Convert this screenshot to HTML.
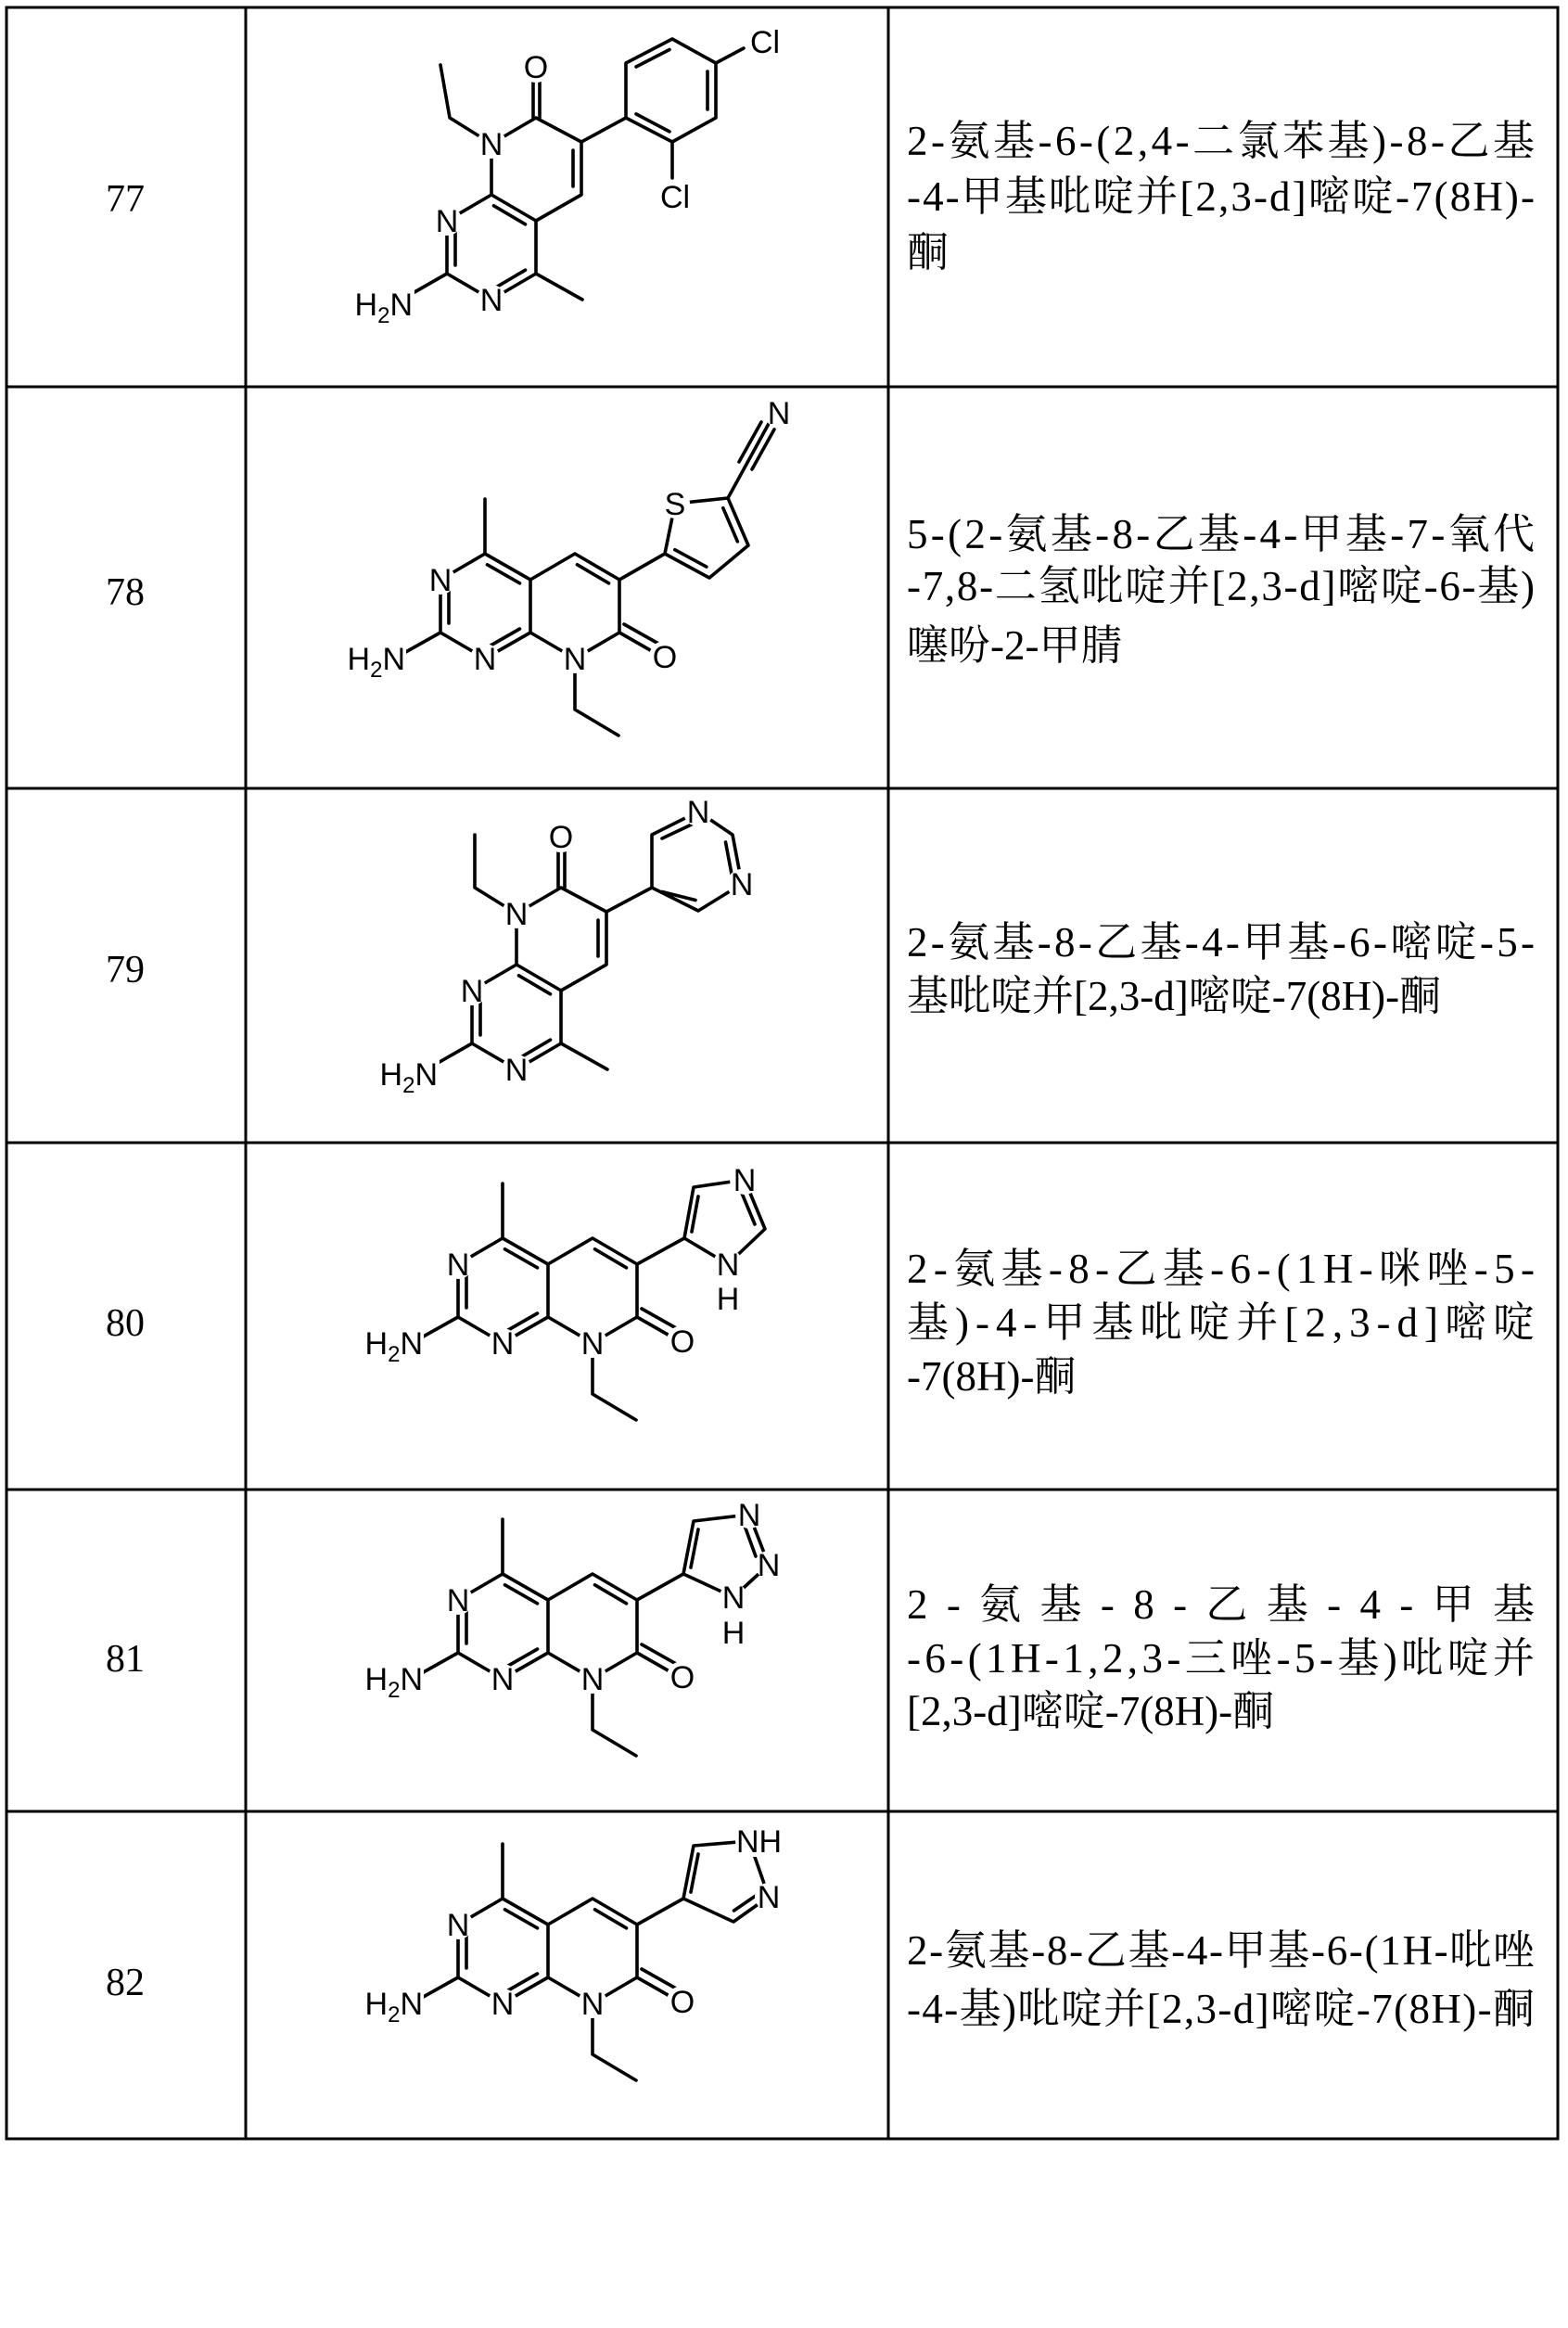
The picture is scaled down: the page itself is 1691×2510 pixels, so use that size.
<!DOCTYPE html>
<html><head><meta charset="utf-8"><style>
html,body{margin:0;padding:0;background:#fff;}
svg{display:block;}
.b{stroke:#000;stroke-width:3.6;fill:none;stroke-linecap:round;stroke-linejoin:round;}
.a{font-family:"Liberation Sans",sans-serif;font-size:34px;text-anchor:middle;fill:#000;}
.s{font-size:24px;}
.num{font-family:"Liberation Serif",serif;font-size:42px;text-anchor:middle;fill:#000;}
.t{font-family:"Liberation Serif","Noto Serif CJK SC",serif;font-size:45px;fill:#000;}
.bg{fill:#fff;}
</style></head><body>
<svg width="1691" height="2510" viewBox="0 0 1691 2510" xmlns="http://www.w3.org/2000/svg">
<rect width="1691" height="2510" fill="#fff"/>
<g stroke="#000" stroke-width="3" fill="none">
<rect x="7" y="8" width="1673" height="2298"/>
<line x1="265" y1="8" x2="265" y2="2306"/>
<line x1="958" y1="8" x2="958" y2="2306"/>
<line x1="7" y1="417" x2="1680" y2="417"/>
<line x1="7" y1="850" x2="1680" y2="850"/>
<line x1="7" y1="1232" x2="1680" y2="1232"/>
<line x1="7" y1="1606" x2="1680" y2="1606"/>
<line x1="7" y1="1953" x2="1680" y2="1953"/>
</g>
<text class="num" x="135" y="228">77</text>
<text class="num" x="135" y="652">78</text>
<text class="num" x="135" y="1059">79</text>
<text class="num" x="135" y="1440">80</text>
<text class="num" x="135" y="1802">81</text>
<text class="num" x="135" y="2151">82</text>
<text class="t" x="978" y="167" textLength="677" lengthAdjust="spacing">2-氨基-6-(2,4-二氯苯基)-8-乙基</text>
<text class="t" x="978" y="227" textLength="677" lengthAdjust="spacing">-4-甲基吡啶并[2,3-d]嘧啶-7(8H)-</text>
<text class="t" x="978" y="287">酮</text>
<text class="t" x="978" y="591" textLength="677" lengthAdjust="spacing">5-(2-氨基-8-乙基-4-甲基-7-氧代</text>
<text class="t" x="978" y="647" textLength="677" lengthAdjust="spacing">-7,8-二氢吡啶并[2,3-d]嘧啶-6-基)</text>
<text class="t" x="978" y="711">噻吩-2-甲腈</text>
<text class="t" x="978" y="1031" textLength="677" lengthAdjust="spacing">2-氨基-8-乙基-4-甲基-6-嘧啶-5-</text>
<text class="t" x="978" y="1089">基吡啶并[2,3-d]嘧啶-7(8H)-酮</text>
<text class="t" x="978" y="1383" textLength="677" lengthAdjust="spacing">2-氨基-8-乙基-6-(1H-咪唑-5-</text>
<text class="t" x="978" y="1441" textLength="677" lengthAdjust="spacing">基)-4-甲基吡啶并[2,3-d]嘧啶</text>
<text class="t" x="978" y="1499">-7(8H)-酮</text>
<text class="t" x="978" y="1745" textLength="677" lengthAdjust="spacing">2-氨基-8-乙基-4-甲基</text>
<text class="t" x="978" y="1803" textLength="677" lengthAdjust="spacing">-6-(1H-1,2,3-三唑-5-基)吡啶并</text>
<text class="t" x="978" y="1860">[2,3-d]嘧啶-7(8H)-酮</text>
<text class="t" x="978" y="2118" textLength="677" lengthAdjust="spacing">2-氨基-8-乙基-4-甲基-6-(1H-吡唑</text>
<text class="t" x="978" y="2181" textLength="677" lengthAdjust="spacing">-4-基)吡啶并[2,3-d]嘧啶-7(8H)-酮</text>

<g>
<path class="b" d="M482,238 L482,295 L530,323 L578,295 L578,238 L530,210 Z M530,210 L530,155 L578,127 L627,153 L627,210 L578,238 M575,127 L575,76 M582,127 L582,76 M578,295 L628,323 M482,295 L433,323 M530,155 L485,127 L475,70 M618,162 L618,201 M566.5,241.8 L532.5,221.8 M491,247 L491,286 M532.5,311.2 L566.5,291.2"/>
<circle class="bg" cx="530" cy="155" r="16"/><circle class="bg" cx="578" cy="72" r="17"/><circle class="bg" cx="482" cy="238" r="16"/><circle class="bg" cx="530" cy="323" r="16"/><rect class="bg" x="377" y="306" width="70" height="40"/>
<text class="a" x="530" y="167">N</text><text class="a" x="578" y="84">O</text><text class="a" x="482" y="250">N</text><text class="a" x="530" y="335">N</text>
<text class="a" x="445" y="340" style="text-anchor:end">H<tspan class="s" dy="8">2</tspan><tspan dy="-8">N</tspan></text>
</g>
<path class="b" d="M627,153 L675,127 M675,127 L725,153 L772,127 L772,68 L725,42 L675,68 Z M725,153 L725,192 M772,68 L802,52 M686,72 L722,53.5 M763,77 L763,118 M686,122.9 L722,141.9"/>
<text class="a" x="728" y="224">Cl</text>
<text class="a" x="825" y="57">Cl</text>

<g transform="translate(27,830)">
<path class="b" d="M482,238 L482,295 L530,323 L578,295 L578,238 L530,210 Z M530,210 L530,155 L578,127 L627,153 L627,210 L578,238 M575,127 L575,76 M582,127 L582,76 M578,295 L628,323 M482,295 L433,323 M530,155 L485,127 L485,70 M618,162 L618,201 M566.5,241.8 L532.5,221.8 M491,247 L491,286 M532.5,311.2 L566.5,291.2"/>
<circle class="bg" cx="530" cy="155" r="16"/><circle class="bg" cx="578" cy="72" r="17"/><circle class="bg" cx="482" cy="238" r="16"/><circle class="bg" cx="530" cy="323" r="16"/><rect class="bg" x="377" y="306" width="70" height="40"/>
<text class="a" x="530" y="167">N</text><text class="a" x="578" y="84">O</text><text class="a" x="482" y="250">N</text><text class="a" x="530" y="335">N</text>
<text class="a" x="445" y="340" style="text-anchor:end">H<tspan class="s" dy="8">2</tspan><tspan dy="-8">N</tspan></text>
</g>
<path class="b" d="M654,983 L703,957 M703,957 L703,900 L753,875 L790,900 L800,953 L753,982 Z M714,904 L750,887 M782.5,908 L789.5,945 M750,970.5 L714,961.5"/>
<circle class="bg" cx="753" cy="875" r="16"/><circle class="bg" cx="800" cy="953" r="16"/>
<text class="a" x="753" y="887">N</text><text class="a" x="800" y="965">N</text>

<g>
<path class="b" d="M523,538 L523,597 M523,597 L475,625 L475,682 L523,710 L572,682 L572,625 Z M572,625 L620,597 L668,625 L668,682 L620,710 L572,682 M668,682 L717,710 M673,673 L712,695 M620,710 L620,765 L667,793 M475,682 L425,710 M484,636 L484,672 M525.5,698 L560.5,678 M525.5,608.8 L560.5,628.8 M622.5,608.8 L656.5,628.8"/>
<circle class="bg" cx="475" cy="625" r="16"/><circle class="bg" cx="523" cy="710" r="16"/><circle class="bg" cx="620" cy="710" r="16"/><circle class="bg" cx="717" cy="708" r="17"/><rect class="bg" x="368" y="690" width="70" height="40"/>
<text class="a" x="475" y="637">N</text><text class="a" x="523" y="722">N</text><text class="a" x="620" y="722">N</text><text class="a" x="717" y="720">O</text>
<text class="a" x="437" y="722" style="text-anchor:end">H<tspan class="s" dy="8">2</tspan><tspan dy="-8">N</tspan></text>
</g>
<path class="b" d="M668,625 L717,597 M717,597 L728,543 L785,537 L807,588 L765,623 Z M779.8,547.7 L795.4,583.9 M761.8,611.1 L727.8,592.7 M785,537 L830,455 M797,498 L821,455 M811,506 L835,463"/>
<circle class="bg" cx="728" cy="543" r="16"/><circle class="bg" cx="840" cy="445" r="16"/>
<text class="a" x="728" y="555">S</text><text class="a" x="840" y="457">N</text>

<g transform="translate(19,738)">
<path class="b" d="M523,538 L523,597 M523,597 L475,625 L475,682 L523,710 L572,682 L572,625 Z M572,625 L620,597 L668,625 L668,682 L620,710 L572,682 M668,682 L717,710 M673,673 L712,695 M620,710 L620,765 L667,793 M475,682 L425,710 M484,636 L484,672 M525.5,698 L560.5,678 M525.5,608.8 L560.5,628.8 M622.5,608.8 L656.5,628.8"/>
<circle class="bg" cx="475" cy="625" r="16"/><circle class="bg" cx="523" cy="710" r="16"/><circle class="bg" cx="620" cy="710" r="16"/><circle class="bg" cx="717" cy="708" r="17"/><rect class="bg" x="368" y="690" width="70" height="40"/>
<text class="a" x="475" y="637">N</text><text class="a" x="523" y="722">N</text><text class="a" x="620" y="722">N</text><text class="a" x="717" y="720">O</text>
<text class="a" x="437" y="722" style="text-anchor:end">H<tspan class="s" dy="8">2</tspan><tspan dy="-8">N</tspan></text>
</g>
<path class="b" d="M687,1363 L738,1335 M738,1335 L748,1280 L803,1272 L825,1325 L785,1363 Z M746,1328 L753,1290 M799,1284 L814,1320"/>
<circle class="bg" cx="803" cy="1272" r="16"/><circle class="bg" cx="785" cy="1363" r="16"/>
<text class="a" x="803" y="1284">N</text><text class="a" x="785" y="1375">N</text><text class="a" x="785" y="1412">H</text>

<g transform="translate(19,1100)">
<path class="b" d="M523,538 L523,597 M523,597 L475,625 L475,682 L523,710 L572,682 L572,625 Z M572,625 L620,597 L668,625 L668,682 L620,710 L572,682 M668,682 L717,710 M673,673 L712,695 M620,710 L620,765 L667,793 M475,682 L425,710 M484,636 L484,672 M525.5,698 L560.5,678 M525.5,608.8 L560.5,628.8 M622.5,608.8 L656.5,628.8"/>
<circle class="bg" cx="475" cy="625" r="16"/><circle class="bg" cx="523" cy="710" r="16"/><circle class="bg" cx="620" cy="710" r="16"/><circle class="bg" cx="717" cy="708" r="17"/><rect class="bg" x="368" y="690" width="70" height="40"/>
<text class="a" x="475" y="637">N</text><text class="a" x="523" y="722">N</text><text class="a" x="620" y="722">N</text><text class="a" x="717" y="720">O</text>
<text class="a" x="437" y="722" style="text-anchor:end">H<tspan class="s" dy="8">2</tspan><tspan dy="-8">N</tspan></text>
</g>
<path class="b" d="M687,1725 L737,1697 M737,1697 L748,1640 L808,1633 L829,1687 L791,1722 Z M745,1690 L753,1649 M803,1645 L815,1678"/>
<circle class="bg" cx="808" cy="1633" r="15"/><circle class="bg" cx="829" cy="1687" r="15"/><circle class="bg" cx="791" cy="1722" r="15"/>
<text class="a" x="808" y="1645">N</text><text class="a" x="829" y="1699">N</text><text class="a" x="791" y="1734">N</text><text class="a" x="791" y="1772">H</text>

<g transform="translate(19,1450)">
<path class="b" d="M523,538 L523,597 M523,597 L475,625 L475,682 L523,710 L572,682 L572,625 Z M572,625 L620,597 L668,625 L668,682 L620,710 L572,682 M668,682 L717,710 M673,673 L712,695 M620,710 L620,765 L667,793 M475,682 L425,710 M484,636 L484,672 M525.5,698 L560.5,678 M525.5,608.8 L560.5,628.8 M622.5,608.8 L656.5,628.8"/>
<circle class="bg" cx="475" cy="625" r="16"/><circle class="bg" cx="523" cy="710" r="16"/><circle class="bg" cx="620" cy="710" r="16"/><circle class="bg" cx="717" cy="708" r="17"/><rect class="bg" x="368" y="690" width="70" height="40"/>
<text class="a" x="475" y="637">N</text><text class="a" x="523" y="722">N</text><text class="a" x="620" y="722">N</text><text class="a" x="717" y="720">O</text>
<text class="a" x="437" y="722" style="text-anchor:end">H<tspan class="s" dy="8">2</tspan><tspan dy="-8">N</tspan></text>
</g>
<path class="b" d="M687,2075 L737,2047 M737,2047 L748,1990 L808,1985 L829,2045 L791,2072 Z M745,2040 L753,1999 M816.5,2042.9 L791.5,2060"/>
<circle class="bg" cx="808" cy="1985" r="15"/><circle class="bg" cx="829" cy="2045" r="15"/>
<rect class="bg" x="795" y="1968" width="52" height="34"/>
<text class="a" x="794" y="1997" style="text-anchor:start">NH</text><text class="a" x="829" y="2057">N</text>
</svg>
</body></html>
